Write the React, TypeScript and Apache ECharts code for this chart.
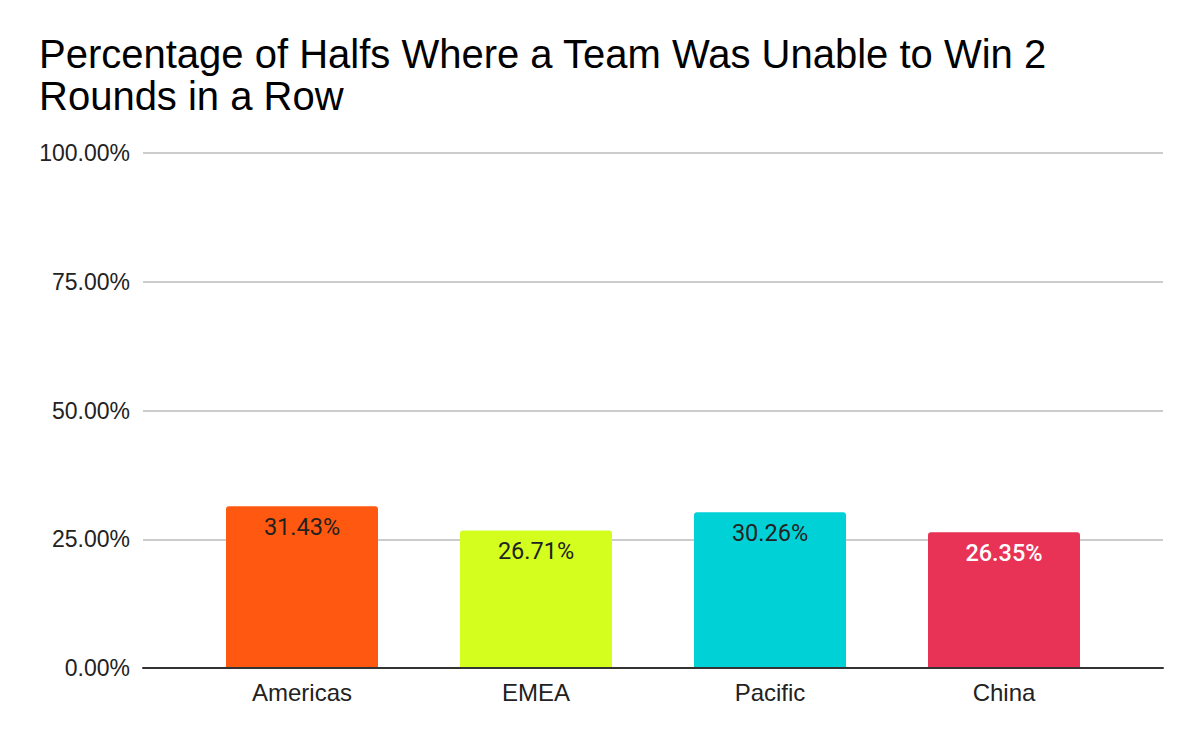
import React, { useEffect, useRef } from "react";
import * as echarts from "echarts";

const categories = ["Americas", "EMEA", "Pacific", "China"];
const values = [31.43, 26.71, 30.26, 26.35];
const barColors = ["#FF5810", "#D4FF1E", "#00D1D7", "#E83256"];
const labelColors = ["#222222", "#222222", "#222222", "#FFFFFF"];
const yTicks = [0, 25, 50, 75, 100];

export default function App() {
  const ref = useRef<HTMLDivElement>(null);
  useEffect(() => {
    document.body.style.margin = "0";
    if (!ref.current) return;
    const chart = echarts.init(ref.current, undefined, { renderer: "svg" });
    const top = 153;
    const bottom = 742 - 668;
    chart.setOption({
      animation: false,
      backgroundColor: "#ffffff",
      title: {
        text: "Percentage of Halfs Where a Team Was Unable to Win 2\nRounds in a Row",
        left: 34,
        top: 28,
        textStyle: {
          fontFamily: "Liberation Sans, Arial, sans-serif",
          fontSize: 40,
          fontWeight: "normal",
          color: "#000000",
          lineHeight: 42,
        },
      },
      grid: [
        { left: 143, right: 37, top, bottom },
        { left: 185, right: 79, top, bottom },
      ],
      xAxis: [
        {
          gridIndex: 0,
          type: "value",
          min: 0,
          max: 1,
          z: 5,
          axisLine: { show: true, onZero: false, lineStyle: { color: "#333333", width: 2 } },
          axisTick: { show: false },
          axisLabel: { show: false },
          splitLine: { show: false },
        },
        {
          gridIndex: 1,
          type: "category",
          data: categories,
          axisLine: { show: false },
          axisTick: { show: false },
          axisLabel: {
            margin: 12,
            fontFamily: "Liberation Sans, Arial, sans-serif",
            fontSize: 24,
            color: "#222222",
          },
        },
      ],
      yAxis: [
        {
          gridIndex: 0,
          type: "value",
          min: yTicks[0],
          max: yTicks[yTicks.length - 1],
          interval: 25,
          axisLine: { show: false },
          axisTick: { show: false },
          axisLabel: {
            margin: 13,
            fontFamily: "Liberation Sans, Arial, sans-serif",
            fontSize: 23,
            color: "#222222",
            formatter: (v: number) => v.toFixed(2) + "%",
          },
          splitLine: { show: true, lineStyle: { color: "#cccccc", width: 2 } },
        },
        {
          gridIndex: 1,
          type: "value",
          min: 0,
          max: 100,
          show: false,
        },
      ],
      series: [
        {
          type: "bar",
          xAxisIndex: 1,
          yAxisIndex: 1,
          barWidth: 152,
          data: values.map((v, i) => ({
            value: v,
            itemStyle: { color: barColors[i], borderRadius: [3, 3, 0, 0] },
            label: { color: labelColors[i], fontWeight: i === 3 ? 500 : "normal" },
          })),
          label: {
            show: true,
            position: "insideTop",
            distance: 9,
            fontFamily: "Roboto, sans-serif",
            fontSize: 23.5,
            formatter: (p: any) => p.value.toFixed(2) + "%",
          },
        },
      ],
    });
    return () => chart.dispose();
  }, []);
  return <div ref={ref} style={{ width: 1200, height: 742 }} />;
}
